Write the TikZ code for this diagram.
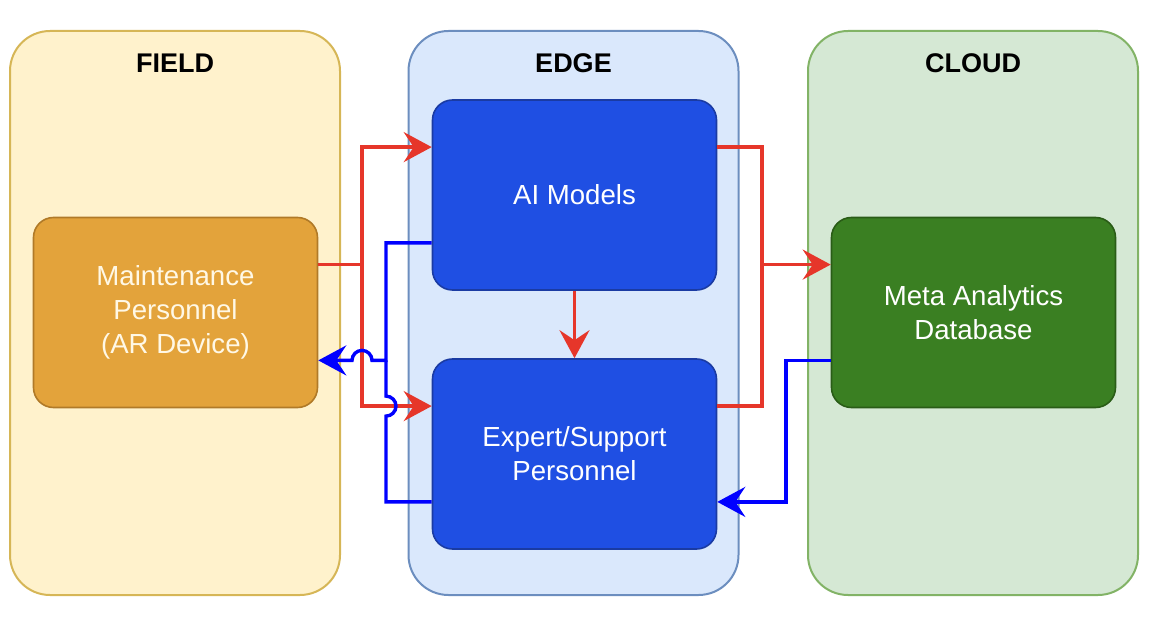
\documentclass[tikz,border=0pt]{standalone}
\usepackage{fontspec}
\setmainfont{Liberation Sans}
\usetikzlibrary{arrows.meta}
\usetikzlibrary{calc}
\usepackage{xcolor}
\definecolor{fieldfill}{HTML}{FFF2CC}
\definecolor{fielddraw}{HTML}{D6B656}
\definecolor{edgefill}{HTML}{DAE8FC}
\definecolor{edgedraw}{HTML}{6C8EBF}
\definecolor{cloudfill}{HTML}{D5E8D4}
\definecolor{clouddraw}{HTML}{82B366}
\definecolor{maintfill}{HTML}{E3A33B}
\definecolor{maintdraw}{HTML}{B07A28}
\definecolor{maintext}{HTML}{FFF8E6}
\definecolor{aifill}{HTML}{1F4FE3}
\definecolor{aidraw}{HTML}{1A3BA3}
\definecolor{dbfill}{HTML}{3A7F22}
\definecolor{dbdraw}{HTML}{2A5C17}
\definecolor{flowred}{HTML}{E6362A}
\definecolor{flowblue}{HTML}{0000FF}
\tikzset{>={Stealth[length=14pt,width=15pt,inset=5pt]}}
\tikzset{
  zonebox/.style={draw, line width=1pt, rounded corners=20pt, minimum width=165pt, minimum height=282pt, inner sep=0pt},
  zonetitle/.style={font=\fontsize{13.5}{16}\selectfont\bfseries},
  block/.style={draw, line width=0.8pt, rounded corners=10pt, minimum width=142pt, minimum height=95pt, inner sep=0pt, align=center, text=white, font=\fontsize{13.8}{17}\selectfont},
  redflow/.style={draw=flowred, line width=1.7pt},
  blueflow/.style={draw=flowblue, line width=1.7pt},
}
\newcommand{\drawzone}[5]{
   \node[zonebox, fill=#3, draw=#4] (#1) at (#2,313) {};
   \node[zonetitle] (#1-title) at (#2,63) {#5};
}

\begin{document}
\begin{tikzpicture}[x=0.5pt, y=-0.5pt]
		\useasboundingbox (0,0) rectangle (1152,620);

		% Zones
		\drawzone{field}{175}{fieldfill}{fielddraw}{FIELD}
		\drawzone{edge}{573.5}{edgefill}{edgedraw}{EDGE}
		\drawzone{cloud}{973}{cloudfill}{clouddraw}{CLOUD}

		% Blocks
		\node[block, fill=maintfill, draw=maintdraw, text=maintext] (maint) at (175.5,312.5) {Maintenance\\Personnel\\(AR Device)};
		\node[block, fill=aifill, draw=aidraw] (ai) at (574.5,195) {AI Models};
		\node[block, fill=aifill, draw=aidraw] (ex) at (574.5,454) {Expert/Support\\Personnel};
		\node[block, fill=dbfill, draw=dbdraw] (db) at (973.5,312.5) {Meta Analytics\\Database};

		% Ports
		\coordinate (m-out) at ($(maint.north east)!0.25!(maint.south east)$);
		\coordinate (m-in) at ($(maint.north east)!0.75!(maint.south east)$);
		\coordinate (ai-in) at ($(ai.north west)!0.25!(ai.south west)$);
		\coordinate (ai-back) at ($(ai.north west)!0.75!(ai.south west)$);
		\coordinate (ai-out) at ($(ai.north east)!0.25!(ai.south east)$);
		\coordinate (ex-in) at ($(ex.north west)!0.25!(ex.south west)$);
		\coordinate (ex-back) at ($(ex.north west)!0.75!(ex.south west)$);
		\coordinate (ex-out) at ($(ex.north east)!0.25!(ex.south east)$);
		\coordinate (ex-ret) at ($(ex.north east)!0.75!(ex.south east)$);
		\coordinate (db-in) at ($(db.north west)!0.25!(db.south west)$);
		\coordinate (db-back) at ($(db.north west)!0.75!(db.south west)$);
		\coordinate (jl) at (362,0);
		\coordinate (jb) at (386,0);
		\coordinate (jr) at (762,0);
		\coordinate (jc) at (786,0);

		% Requests
		\draw[redflow,->] (m-out) -- (m-out -| jl) |- (ai-in);
		\draw[redflow,->] (m-out -| jl) |- (ex-in);
		\draw[redflow,->] (ai.south) -- (ex.north);
		\draw[redflow,->] (ai-out) -- (ai-out -| jr) |- (db-in);
		\draw[redflow] (ex-out) -| (db-in -| jr);

		% Feedback
		\draw[blueflow,->] (ai-back) -- (ai-back -| jb) -- (m-in -| jb) -- ($(m-in -| jl)+(5pt,0)$) arc[start angle=0, end angle=180, radius=5pt] -- (m-in);
		\draw[blueflow] (ex-back) -- (ex-back -| jb) -- ($(ex-in -| jb)+(0,-5pt)$) arc[start angle=-90, end angle=90, radius=5pt] -- (m-in -| jb);
		\draw[blueflow,->] (db-back) -- (db-back -| jc) |- (ex-ret);
	\end{tikzpicture}
\end{document}
